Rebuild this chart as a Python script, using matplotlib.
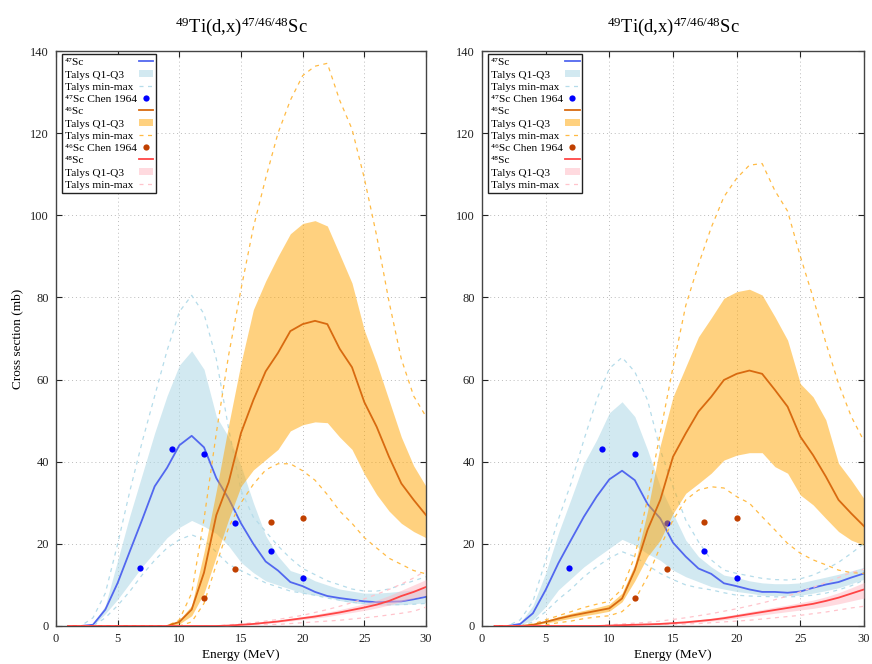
import matplotlib
matplotlib.use("Agg")
import matplotlib.pyplot as plt
from matplotlib.patches import Patch, Rectangle
from matplotlib.legend_handler import HandlerPatch
import numpy as np

plt.rcParams['font.family'] = ['Liberation Serif', 'DejaVu Serif']
plt.rcParams['mathtext.fontset'] = 'custom'
plt.rcParams['mathtext.rm'] = 'Liberation Serif'
plt.rcParams['mathtext.it'] = 'Liberation Serif:italic'
plt.rcParams['mathtext.bf'] = 'Liberation Serif:bold'

# ---------------- data ----------------
energy = list(range(1, 31))

chen_e47 = [6.8, 9.4, 12.0, 14.5, 17.4, 20.0]
chen_sc47 = [14.1, 43.1, 41.8, 25.0, 18.3, 11.6]
chen_e46 = [12.0, 14.5, 17.4, 20.0]
chen_sc46 = [6.7, 13.9, 25.3, 26.2]

# left panel
L47_mid = [0, 0, 0.3, 4, 10.5, 18.3, 26, 34, 38.5, 44, 46.3, 43.5, 36, 31, 25, 20, 15.7, 13.5, 10.7, 9.7, 8.3, 7.3, 6.8, 6.4, 6.0, 5.8, 5.9, 6.0, 6.5, 7.1]
L47_q1 = [0, 0, 0.1, 3, 6.5, 10.5, 14.5, 18, 21.5, 24, 25.7, 24.3, 22.5, 19.5, 15.5, 13, 11, 10, 9, 8, 7.5, 7, 6.2, 5.7, 5.3, 5.1, 5.1, 5.2, 5.4, 5.7]
L47_q3 = [0, 0, 0.5, 5, 16, 27, 37, 47, 56, 63.5, 67, 62.5, 51, 46, 39, 30, 22, 17, 13.5, 12.5, 11, 10, 9, 8.5, 8, 8, 8.2, 8.5, 8.8, 9.2]
L47_min = [0, 0, 0, 2, 5, 8.5, 12.5, 16, 19, 21, 22.2, 21, 18, 15, 13.5, 12, 10.5, 9.5, 8.5, 8, 7.5, 6.8, 6.3, 5.8, 5.5, 5.3, 5.2, 5.2, 5.3, 5.5]
L47_max = [0, 0, 2, 8, 20, 33, 45, 56, 67, 76.5, 80.5, 76, 65, 48, 33, 26.5, 23, 19.5, 16.5, 14, 12.5, 11, 10, 9, 8.5, 8.5, 9, 10, 11, 12]

L46_mid = [0, 0, 0, 0, 0, 0, 0, 0, 0, 1, 4, 13, 27, 35, 47, 55, 62, 66.5, 71.8, 73.5, 74.3, 73.5, 67.5, 63, 54.5, 48.5, 41.2, 34.7, 30.7, 27]
L46_q1 = [0, 0, 0, 0, 0, 0, 0, 0, 0, 0.5, 2.5, 8, 17, 26, 34, 38, 40.5, 43, 47.5, 49, 49.7, 49.5, 46, 43, 37, 32, 28, 25, 23, 21.5]
L46_q3 = [0, 0, 0, 0, 0, 0, 0, 0, 0, 1.5, 5, 18, 33, 49, 64, 77, 84, 90, 95.5, 98, 98.7, 97.4, 90.5, 83.5, 72, 64, 55, 46, 39, 34]
L46_min = [0, 0, 0, 0, 0, 0, 0, 0, 0, 0, 1, 5.5, 15, 24, 30, 34.5, 38, 39.5, 39.5, 37.8, 35.5, 32, 28, 25, 21.5, 19, 16.5, 15, 13.5, 12.7]
L46_max = [0, 0, 0, 0, 0, 0, 0, 0, 0, 1.5, 8, 26, 47, 66, 82, 97, 109, 120, 128, 134, 136.3, 137, 128, 121, 109, 95, 79, 65, 56, 51]

L48_mid = [0, 0, 0, 0, 0, 0, 0, 0, 0, 0, 0, 0, 0, 0.1, 0.3, 0.5, 0.8, 1.1, 1.5, 1.9, 2.3, 2.8, 3.3, 3.9, 4.5, 5.2, 6.1, 7.3, 8.3, 9.5]
L48_q1 = [0, 0, 0, 0, 0, 0, 0, 0, 0, 0, 0, 0, 0, 0.05, 0.2, 0.4, 0.6, 0.9, 1.2, 1.6, 1.9, 2.3, 2.8, 3.3, 3.8, 4.4, 5.1, 6.0, 6.8, 7.5]
L48_q3 = [0, 0, 0, 0, 0, 0, 0, 0, 0, 0, 0, 0, 0, 0.15, 0.4, 0.6, 1.0, 1.4, 1.8, 2.3, 2.8, 3.4, 4.0, 4.7, 5.4, 6.3, 7.4, 8.7, 10.0, 11.3]
L48_min = [0, 0, 0, 0, 0, 0, 0, 0, 0, 0, 0, 0, 0, 0, 0.1, 0.2, 0.3, 0.4, 0.6, 0.8, 1.0, 1.2, 1.4, 1.7, 2.0, 2.3, 2.7, 3.1, 3.6, 4.6]
L48_max = [0, 0, 0, 0, 0, 0, 0, 0, 0, 0, 0, 0, 0, 0.3, 0.5, 0.8, 1.2, 1.6, 2.1, 2.6, 3.3, 4.0, 4.8, 5.7, 6.6, 7.7, 8.9, 10.2, 11.7, 13.5]

# right panel
R47_mid = [0, 0, 0.5, 3.1, 8.8, 15.3, 21, 26.6, 31.5, 35.7, 37.8, 35.5, 29.7, 26.2, 20.3, 16.9, 14, 12.7, 10.4, 9.7, 8.9, 8.3, 8.3, 8.1, 8.4, 9.3, 10.1, 10.7, 11.8, 12.8]
R47_q1 = [0, 0, 0.2, 1.5, 4.7, 8.8, 11.6, 14.4, 16.7, 18.9, 21.1, 19.7, 17.6, 16, 13.6, 12, 10.8, 9.6, 9, 8.4, 8, 7.5, 7.4, 7.4, 7.5, 8, 8.6, 9.3, 10.3, 11.4]
R47_q3 = [0, 0, 0.8, 5, 12.9, 22.6, 31, 39.6, 45.3, 51.9, 54.6, 51, 42.9, 33.9, 27.4, 20.9, 16.9, 14.4, 12.4, 11.8, 11, 10.5, 10.3, 10.3, 10.5, 11.2, 11.9, 12.6, 13.4, 14.3]
R47_min = [0, 0, 0, 1.0, 3.5, 6.5, 9, 12, 14.4, 16.5, 18.1, 16.9, 14.8, 12.8, 11.3, 10, 9.3, 8.8, 8.1, 7.5, 7.3, 7.2, 7.1, 7.1, 7.2, 7.5, 8, 8.8, 9.8, 11.2]
R47_max = [0, 0, 1.5, 6, 16, 26, 34.8, 45.3, 55, 62.7, 65.4, 61.9, 55, 42.9, 33.9, 25.8, 20.5, 16.1, 13.6, 12.8, 12.2, 11.6, 11.3, 11.2, 11.5, 12.4, 13.8, 15.5, 17.7, 20.1]

R46_mid = [0, 0, 0, 0.3, 1, 1.8, 2.5, 3.1, 3.7, 4.3, 6.7, 13.6, 23.4, 30.7, 41.2, 46.9, 52.2, 55.8, 59.9, 61.4, 62.2, 61.4, 57.5, 53.4, 46.1, 41.6, 36.4, 30.7, 27.4, 24.3]
R46_q1 = [0, 0, 0, 0.2, 0.7, 1.3, 1.9, 2.5, 3.0, 3.6, 5.9, 11, 16.9, 20.9, 27.4, 32.3, 34.7, 37.2, 40.4, 41.6, 42.2, 42.2, 38.8, 37.2, 31.9, 29.5, 26.2, 23, 20.9, 19.7]
R46_q3 = [0, 0, 0, 0.4, 1.3, 2.3, 3.1, 3.8, 4.5, 5.3, 8, 15, 28, 44, 55.8, 63.1, 70.4, 75, 79.8, 81.4, 82, 80.6, 75.3, 69.6, 59, 55.8, 50.2, 39.6, 35.5, 31]
R46_min = [0, 0, 0, 0, 0.3, 0.8, 1.2, 1.8, 2.2, 2.5, 3.5, 6.3, 12, 19.3, 25.8, 30.7, 33.1, 33.9, 33.6, 31.5, 29.9, 26.6, 23.4, 20.1, 17.7, 16.1, 14.9, 13.6, 13, 12.8]
R46_max = [0, 0, 0, 0.5, 1.5, 2.5, 3.5, 4.5, 5.3, 6.0, 9, 17, 31, 47, 63, 78, 88, 97, 104.5, 109, 112.2, 112.6, 106, 101, 90, 80, 69, 59, 51, 45]

R48_mid = [0, 0, 0, 0, 0, 0, 0, 0, 0, 0.1, 0.2, 0.3, 0.4, 0.5, 0.7, 0.9, 1.2, 1.5, 1.9, 2.4, 2.9, 3.4, 3.9, 4.4, 4.9, 5.4, 6.1, 6.9, 7.9, 8.9]
R48_q1 = [0, 0, 0, 0, 0, 0, 0, 0, 0, 0.05, 0.1, 0.2, 0.3, 0.4, 0.5, 0.7, 0.9, 1.2, 1.5, 1.9, 2.3, 2.7, 3.1, 3.5, 3.9, 4.3, 4.8, 5.4, 6.1, 6.8]
R48_q3 = [0, 0, 0, 0, 0, 0, 0, 0, 0, 0.15, 0.3, 0.4, 0.5, 0.7, 0.9, 1.1, 1.5, 1.9, 2.4, 2.9, 3.5, 4.0, 4.6, 5.1, 5.7, 6.3, 7.1, 8.1, 9.3, 10.6]
R48_min = [0, 0, 0, 0, 0, 0, 0, 0, 0, 0, 0.1, 0.15, 0.2, 0.3, 0.4, 0.5, 0.6, 0.8, 1.0, 1.2, 1.4, 1.7, 2.0, 2.3, 2.6, 3.0, 3.4, 3.9, 4.4, 4.8]
R48_max = [0, 0, 0, 0, 0, 0, 0, 0, 0, 0.3, 0.5, 0.7, 0.9, 1.2, 1.6, 2.0, 2.5, 3.0, 3.6, 4.2, 4.9, 5.6, 6.4, 7.3, 8.3, 9.4, 10.6, 11.8, 13.0, 13.8]

title = r'$^{49}$Ti(d,x)$^{47/46/48}$Sc'
labels47 = ['⁴⁷Sc', 'Talys Q1-Q3', 'Talys min-max', '⁴⁷Sc Chen 1964']
labels46 = ['⁴⁶Sc', 'Talys Q1-Q3', 'Talys min-max', '⁴⁶Sc Chen 1964']
labels48 = ['⁴⁸Sc', 'Talys Q1-Q3', 'Talys min-max']

# ---------------- styles ----------------
C47_LINE, C47_BAND, C47_DASH, C47_PT = '#5267ef', '#add8e6', '#b5dcea', '#0000ff'
C46_LINE, C46_BAND, C46_DASH, C46_PT = '#d86a10', '#ffa500', '#ffbb44', '#c04000'
C48_LINE, C48_BAND, C48_DASH = '#ff4545', '#ffb6c1', '#ffc4cc'

W, H = 872, 664
DPI = 100
fig = plt.figure(figsize=(W / DPI, H / DPI), dpi=DPI)


def px_axes(l, r, t, b):
    return fig.add_axes([l / W, 1 - b / H, (r - l) / W, (b - t) / H])


axL = px_axes(56, 426, 51, 626)
axR = px_axes(482, 864, 51, 626)

panels = [
    (axL, (L47_mid, L47_q1, L47_q3, L47_min, L47_max),
     (L46_mid, L46_q1, L46_q3, L46_min, L46_max),
     (L48_mid, L48_q1, L48_q3, L48_min, L48_max), True),
    (axR, (R47_mid, R47_q1, R47_q3, R47_min, R47_max),
     (R46_mid, R46_q1, R46_q3, R46_min, R46_max),
     (R48_mid, R48_q1, R48_q3, R48_min, R48_max), False),
]


def small_rect(legend, orig_handle, xdescent, ydescent, width, height, fontsize):
    h = height * 0.85
    return Rectangle((-xdescent, -ydescent + (height - h) / 2), width, h)


LEG_FS = 8.2
LEG_PAD = 0.15
dash = (0, (3.2, 3.6))
legends = []
for ax, d47, d46, d48, ylab in panels:
    ax.set_xlim(0, 30)
    ax.set_ylim(0, 140)
    ax.set_xticks(range(0, 31, 5))
    ax.set_yticks(range(0, 141, 20))
    ax.grid(True, linestyle=(0, (1, 3)), color='#bbbbbb', linewidth=0.7)
    ax.set_axisbelow(True)
    ax.tick_params(direction='in', length=4, width=0.8, top=True, right=True,
                   labelsize=9, colors='#222222', pad=5)
    for s in ax.spines.values():
        s.set_color('#444444')
        s.set_linewidth(1.0)

    handles = []
    # 47Sc
    h1, = ax.plot(energy, d47[0], color=C47_LINE, lw=1.3)
    ax.fill_between(energy, d47[1], d47[2], color=C47_BAND, alpha=0.55, lw=0)
    h3, = ax.plot(energy, d47[3], color=C47_DASH, lw=0.9, ls=dash)
    ax.plot(energy, d47[4], color=C47_DASH, lw=0.9, ls=dash)
    h4, = ax.plot(chen_e47, chen_sc47, 'o', color=C47_PT, ms=4.5, mew=0)
    handles += [h1, Patch(color=C47_BAND, alpha=0.55, lw=0), h3, h4]
    # 46Sc
    h1, = ax.plot(energy, d46[0], color=C46_LINE, lw=1.3, zorder=3)
    ax.fill_between(energy, d46[1], d46[2], color=C46_BAND, alpha=0.5, lw=0, zorder=2.5)
    h3, = ax.plot(energy, d46[3], color=C46_DASH, lw=0.9, ls=dash)
    ax.plot(energy, d46[4], color=C46_DASH, lw=0.9, ls=dash)
    h4, = ax.plot(chen_e46, chen_sc46, 'o', color=C46_PT, ms=4.5, mew=0, zorder=3)
    handles += [h1, Patch(color=C46_BAND, alpha=0.5, lw=0), h3, h4]
    # 48Sc
    h1, = ax.plot(energy, d48[0], color=C48_LINE, lw=1.3, zorder=3.2)
    ax.fill_between(energy, d48[1], d48[2], color=C48_BAND, alpha=0.5, lw=0, zorder=3.1)
    h3, = ax.plot(energy, d48[3], color=C48_DASH, lw=0.9, ls=dash, zorder=3.1)
    ax.plot(energy, d48[4], color=C48_DASH, lw=0.9, ls=dash, zorder=3.1)
    handles += [h1, Patch(color=C48_BAND, alpha=0.5, lw=0), h3]

    leg = ax.legend(handles, labels47 + labels46 + labels48, loc='upper left',
                    bbox_to_anchor=(0.016, 0.994),
                    markerfirst=False, fontsize=LEG_FS, labelspacing=0.2,
                    handlelength=1.3, handleheight=0.7, handletextpad=LEG_PAD,
                    borderpad=0.25, borderaxespad=0, fancybox=False, framealpha=1,
                    edgecolor='#222222', frameon=True, numpoints=1,
                    handler_map={Patch: HandlerPatch(patch_func=small_rect)})
    leg.get_frame().set_linewidth(1.0)
    leg.set_zorder(10)
    legends.append(leg)

    ax.set_title(title, fontsize=13.4, pad=14)
    ax.set_xlabel('Energy (MeV)', fontsize=9.5, labelpad=3)
    if ylab:
        ax.set_ylabel('Cross section (mb)', fontsize=9.5, labelpad=5)

# left-justify legend texts (gnuplot style: text left, sample right)
fig.canvas.draw()
renderer = fig.canvas.get_renderer()
for leg in legends:
    for col in leg._legend_handle_box.get_children():
        rows = col.get_children()
        widths = [r.get_children()[0].get_window_extent(renderer).width for r in rows]
        wmax = max(widths)
        for r, w in zip(rows, widths):
            r.sep = LEG_PAD * LEG_FS + (wmax - w) * 72.0 / DPI
        col.align = 'left'

fig.savefig('out.png', dpi=DPI)
